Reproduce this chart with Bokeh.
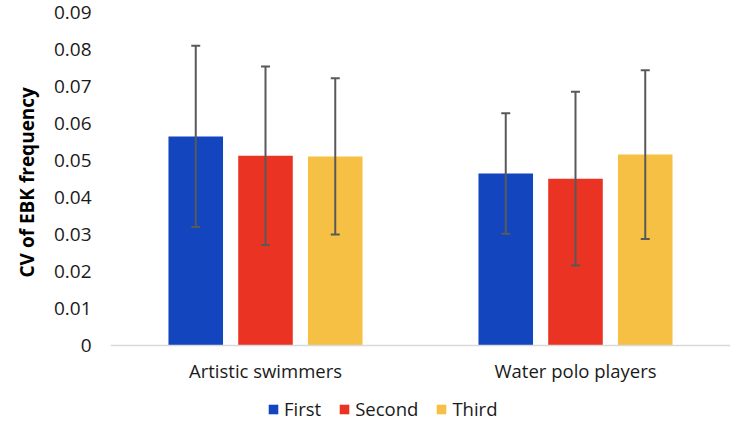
from bokeh.plotting import figure
from bokeh.models import (ColumnDataSource, FactorRange, Legend, LegendItem, FixedTicker,
                          Span, Range1d, Title)
from bokeh.transform import dodge
from bokeh.embed import file_html
from bokeh.resources import INLINE

groups = ["Artistic swimmers", "Water polo players"]
series = ["First", "Second", "Third"]
first_mean = [0.0565, 0.0465]
second_mean = [0.0513, 0.0451]
third_mean = [0.0511, 0.0516]
first_sd = [0.0245, 0.0163]
second_sd = [0.0241, 0.0235]
third_sd = [0.0211, 0.0228]
y_ticks = [0, 0.01, 0.02, 0.03, 0.04, 0.05, 0.06, 0.07, 0.08, 0.09]
y_tick_labels = ["0", "0.01", "0.02", "0.03", "0.04", "0.05", "0.06", "0.07", "0.08", "0.09"]
y_title = "CV of EBK frequency"

colors = ["#1245be", "#ea3323", "#f5c044"]
means = [first_mean, second_mean, third_mean]
sds = [first_sd, second_sd, third_sd]
offsets = [-0.225, 0.0, 0.225]

FONT = "Open Sans"

# frame extends below zero to hold category labels and legend
p = figure(x_range=FactorRange(*groups, range_padding=0), y_range=Range1d(-0.0208, 0.09),
           width=732, height=422, output_backend="svg", toolbar_location=None,
           min_border_left=108, min_border_top=12, min_border_right=2, min_border_bottom=0)
p.outline_line_color = None
p.xgrid.grid_line_color = None
p.ygrid.grid_line_color = None
p.xaxis.visible = False

legend_items = []
for name, m, s, c, off in zip(series, means, sds, colors, offsets):
    src = ColumnDataSource(dict(
        g=groups, top=m,
        lo=[a - b for a, b in zip(m, s)],
        hi=[a + b for a, b in zip(m, s)],
    ))
    r = p.vbar(x=dodge("g", off, range=p.x_range), top="top", bottom=0, width=0.176,
               source=src, fill_color=c, line_color=None)
    legend_items.append(LegendItem(label=name, renderers=[r]))
    p.segment(x0=dodge("g", off, range=p.x_range), x1=dodge("g", off, range=p.x_range),
              y0="lo", y1="hi", source=src, line_color="#595959", line_width=2)
    for yk in ["lo", "hi"]:
        p.segment(x0=dodge("g", off - 0.0145, range=p.x_range),
                  x1=dodge("g", off + 0.0145, range=p.x_range),
                  y0=yk, y1=yk, source=src, line_color="#595959", line_width=2)

# category axis: baseline and labels
p.add_layout(Span(location=0, dimension="width", line_color="#d9d9d9", line_width=1.5))
lab_src = ColumnDataSource(dict(g=groups, y=[0] * len(groups)))
p.text(x="g", y="y", text="g", source=lab_src, text_align="center", text_baseline="middle",
       y_offset=25, text_font={"value": FONT}, text_font_size="18.5px", text_color="#1a1a1a")

p.yaxis.ticker = FixedTicker(ticks=y_ticks)
p.yaxis.major_label_overrides = {t: l for t, l in zip(y_ticks, y_tick_labels)}
p.yaxis.axis_line_color = None
p.yaxis.major_tick_line_color = None
p.yaxis.minor_tick_line_color = None
p.yaxis.major_tick_out = 0
p.yaxis.major_tick_in = 0
p.yaxis.major_label_standoff = 19
p.yaxis.major_label_text_font = FONT
p.yaxis.major_label_text_font_size = "19px"
p.yaxis.major_label_text_color = "#1a1a1a"

# y-axis title placed alongside the 0..0.09 part of the axis
ytitle = Title(text=y_title, align="left", offset=145, standoff=22,
               text_font=FONT, text_font_style="bold", text_font_size="19px",
               text_color="#000000")
p.add_layout(ytitle, "left")

legend = Legend(items=legend_items, orientation="horizontal", location=(157, 1),
                glyph_width=12, glyph_height=12, label_standoff=5, spacing=17,
                padding=0, margin=0, border_line_color=None, background_fill_alpha=0,
                label_text_font=FONT, label_text_font_size="18.5px",
                label_text_color="#1a1a1a", label_height=20)
p.add_layout(legend, "center")

open("out.html", "w").write(file_html(p, INLINE))
